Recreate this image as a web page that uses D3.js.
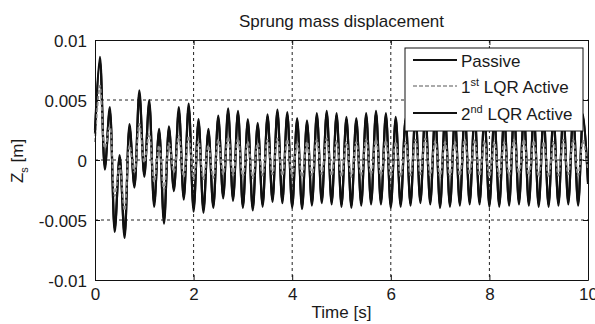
<!DOCTYPE html>
<html>
<head>
<meta charset="utf-8">
<script src="https://cdn.jsdelivr.net/npm/d3@7"></script>
<style>
  body { margin: 0; background: #fff; }
  text { font-family: "Liberation Sans", Arial, sans-serif; fill: #1a1a1a; }
</style>
</head>
<body>
<svg class="zs-chart"></svg>
<script>
// time of each extremum (s)
const timeS = [0,0.1,0.2,0.3,0.4,0.5,0.6,0.7,0.8,0.9,1,1.1,1.2,1.3,1.4,1.5,1.6,1.7,1.8,1.9,
  2,2.1,2.2,2.3,2.4,2.5,2.6,2.7,2.8,2.9,3,3.1,3.2,3.3,3.4,3.5,3.6,3.7,3.8,3.9,
  4,4.1,4.2,4.3,4.4,4.5,4.6,4.7,4.8,4.9,5,5.1,5.2,5.3,5.4,5.5,5.6,5.7,5.8,5.9,
  6,6.1,6.2,6.3,6.4,6.5,6.6,6.7,6.8,6.9,7,7.1,7.2,7.3,7.4,7.5,7.6,7.7,7.8,7.9,
  8,8.1,8.2,8.3,8.4,8.5,8.6,8.7,8.8,8.9,9,9.1,9.2,9.3,9.4,9.5,9.6,9.7,9.8,9.9,10];

const passive = [0.0025,0.0086,-0.0008,0.0044,-0.0060,0.0004,-0.0065,0.0030,-0.0023,0.0058,
  -0.0014,0.0050,-0.0039,0.0026,-0.0053,0.0028,-0.0026,0.0044,-0.0033,0.0047,
  -0.0043,0.0034,-0.0044,0.0026,-0.0040,0.0037,-0.0032,0.0043,-0.0034,0.0041,
  -0.0040,0.0034,-0.0042,0.0031,-0.0039,0.0038,-0.0035,0.0042,-0.0036,0.0040,
  -0.0040,0.0035,-0.0041,0.0033,-0.0038,0.0039,-0.0036,0.0041,-0.0037,0.0039,
  -0.0039,0.0036,-0.0040,0.0035,-0.0038,0.0039,-0.0037,0.0041,-0.0037,0.0039,
  -0.0040,0.0036,-0.0039,0.0035,-0.0038,0.0040,-0.0036,0.0041,-0.0037,0.0038,
  -0.0040,0.0036,-0.0039,0.0036,-0.0038,0.0040,-0.0037,0.0040,-0.0037,0.0038,
  -0.0039,0.0036,-0.0039,0.0037,-0.0038,0.0040,-0.0037,0.0039,-0.0038,0.0038,
  -0.0039,0.0037,-0.0039,0.0038,-0.0038,0.0040,-0.0037,0.0039,-0.0038,0.0038,-0.0020];

const lqr1 = [0.0015,0.0062,0.0010,0.0028,-0.0030,-0.0005,-0.0042,0.0012,-0.0010,0.0030,
  -0.0002,0.0022,-0.0018,0.0012,-0.0025,0.0014,-0.0010,0.0020,-0.0014,0.0020,
  -0.0016,0.0016,-0.0016,0.0012,-0.0015,0.0017,-0.0012,0.0019,-0.0013,0.0018,
  -0.0014,0.0015,-0.0015,0.0014,-0.0013,0.0017,-0.0012,0.0018,-0.0013,0.0017,
  -0.0014,0.0015,-0.0014,0.0015,-0.0013,0.0017,-0.0012,0.0018,-0.0013,0.0016,
  -0.0014,0.0015,-0.0014,0.0015,-0.0013,0.0017,-0.0012,0.0017,-0.0013,0.0016,
  -0.0014,0.0015,-0.0014,0.0015,-0.0013,0.0017,-0.0012,0.0018,-0.0013,0.0016,
  -0.0014,0.0015,-0.0014,0.0015,-0.0013,0.0017,-0.0012,0.0017,-0.0013,0.0016,
  -0.0014,0.0015,-0.0014,0.0015,-0.0013,0.0017,-0.0012,0.0017,-0.0013,0.0016,
  -0.0014,0.0015,-0.0014,0.0015,-0.0013,0.0017,-0.0012,0.0017,-0.0013,0.0016,-0.0008];

const lqr2 = [0.0022,0.0082,-0.0005,0.0041,-0.0057,0.0002,-0.0062,0.0027,-0.0021,0.0055,
  -0.0012,0.0047,-0.0036,0.0024,-0.0050,0.0026,-0.0024,0.0041,-0.0031,0.0044,
  -0.0040,0.0032,-0.0041,0.0024,-0.0038,0.0035,-0.0030,0.0040,-0.0032,0.0039,
  -0.0038,0.0032,-0.0040,0.0029,-0.0037,0.0036,-0.0033,0.0040,-0.0034,0.0038,
  -0.0038,0.0033,-0.0039,0.0031,-0.0036,0.0037,-0.0034,0.0039,-0.0035,0.0037,
  -0.0037,0.0034,-0.0038,0.0033,-0.0036,0.0037,-0.0035,0.0039,-0.0035,0.0037,
  -0.0038,0.0034,-0.0037,0.0033,-0.0036,0.0038,-0.0034,0.0039,-0.0035,0.0036,
  -0.0038,0.0034,-0.0037,0.0034,-0.0036,0.0038,-0.0035,0.0038,-0.0035,0.0036,
  -0.0037,0.0034,-0.0037,0.0035,-0.0036,0.0038,-0.0035,0.0037,-0.0036,0.0036,
  -0.0037,0.0035,-0.0037,0.0036,-0.0036,0.0038,-0.0035,0.0037,-0.0036,0.0036,-0.0018];

const xTicks = [0, 2, 4, 6, 8, 10];
const yTicks = [-0.01, -0.005, 0, 0.005, 0.01];
const yTickLabels = ['-0.01', '-0.005', '0', '0.005', '0.01'];

const svgWidth = 595;
const svgHeight = 324;
const margin = {top: 40, right: 7, bottom: 44, left: 95};
const width = svgWidth - margin.left - margin.right;
const height = svgHeight - margin.top - margin.bottom;

const svg = d3.select('.zs-chart')
  .attr('width', svgWidth)
  .attr('height', svgHeight);

const g = svg.append('g')
  .attr('transform', `translate(${margin.left}, ${margin.top})`);

const x = d3.scaleLinear().domain([0, 10]).range([0, width]);
const y = d3.scaleLinear().domain([-0.01, 0.01]).range([height, 0]);

// grid
g.append('g')
  .selectAll('line')
  .data(xTicks.slice(1, -1))
  .join('line')
  .attr('x1', d => x(d)).attr('x2', d => x(d))
  .attr('y1', 0).attr('y2', height)
  .attr('stroke', '#222').attr('stroke-width', 1)
  .attr('stroke-dasharray', '3,3');
g.append('g')
  .selectAll('line')
  .data(yTicks.slice(1, -1))
  .join('line')
  .attr('x1', 0).attr('x2', width)
  .attr('y1', d => y(d)).attr('y2', d => y(d))
  .attr('stroke', '#222').attr('stroke-width', 1)
  .attr('stroke-dasharray', '3,3');

const line = d3.line()
  .x((d, i) => x(timeS[i]))
  .y(d => y(d))
  .curve(d3.curveCatmullRom.alpha(0.5));

g.append('path')
  .datum(passive)
  .attr('fill', 'none')
  .attr('stroke', '#111')
  .attr('stroke-width', 2.2)
  .attr('d', line);

g.append('path')
  .datum(lqr2)
  .attr('fill', 'none')
  .attr('stroke', '#111')
  .attr('stroke-width', 2.2)
  .attr('d', line);

g.append('path')
  .datum(lqr1)
  .attr('fill', 'none')
  .attr('stroke', '#8c8c8c')
  .attr('stroke-width', 1.8)
  .attr('stroke-dasharray', '4,2')
  .attr('d', line);

// axes (MATLAB style, ticks inside)
const tickFont = g => g.selectAll('text')
  .style('font-family', '"Liberation Sans", Arial, sans-serif')
  .style('font-size', '17px')
  .attr('fill', '#1a1a1a');

g.append('g')
  .attr('transform', `translate(0, ${height})`)
  .call(d3.axisBottom(x).tickValues(xTicks).tickSizeInner(-5).tickSizeOuter(0).tickPadding(8).tickFormat(d3.format('d')))
  .call(tickFont)
  .call(a => a.selectAll('line, path').attr('stroke', '#111'));

g.append('g')
  .call(d3.axisLeft(y).tickValues(yTicks).tickSizeInner(-5).tickSizeOuter(0).tickPadding(8)
    .tickFormat((d, i) => yTickLabels[i]))
  .call(tickFont)
  .call(a => a.selectAll('text').attr('dy', '0.4em'))
  .call(a => a.selectAll('line, path').attr('stroke', '#111'));

g.append('g')
  .call(d3.axisTop(x).tickValues(xTicks).tickSizeInner(-5).tickSizeOuter(0).tickFormat(''))
  .call(a => a.selectAll('line, path').attr('stroke', '#111'));

g.append('g')
  .attr('transform', `translate(${width}, 0)`)
  .call(d3.axisRight(y).tickValues(yTicks).tickSizeInner(-5).tickSizeOuter(0).tickFormat(''))
  .call(a => a.selectAll('line, path').attr('stroke', '#111'));

// title and labels
svg.append('text')
  .attr('x', margin.left + width / 2)
  .attr('y', 27)
  .attr('text-anchor', 'middle')
  .style('font-size', '17px')
  .text('Sprung mass displacement');

svg.append('text')
  .attr('x', margin.left + width / 2)
  .attr('y', 318)
  .attr('text-anchor', 'middle')
  .style('font-size', '17px')
  .text('Time [s]');

const yl = svg.append('text')
  .attr('transform', `translate(23, 161) rotate(-90)`)
  .attr('text-anchor', 'middle')
  .style('font-size', '17px');
yl.append('tspan').text('Z');
yl.append('tspan').attr('dy', 5).style('font-size', '11px').text('s');
yl.append('tspan').attr('dy', -5).text(' [m]');

// legend
const legend = svg.append('g').attr('transform', 'translate(405, 48)');
legend.append('rect')
  .attr('width', 178).attr('height', 83)
  .attr('fill', '#fff').attr('stroke', '#111').attr('stroke-width', 1);

const legendItems = [
  {label: ['Passive'], stroke: '#111', dash: null},
  {label: ['1', 'st', ' LQR Active'], stroke: '#aaa', dash: '4,2'},
  {label: ['2', 'nd', ' LQR Active'], stroke: '#111', dash: null}
];
const rowY = [12, 38, 65];

legendItems.forEach((item, i) => {
  legend.append('line')
    .attr('x1', 8).attr('x2', 52)
    .attr('y1', rowY[i]).attr('y2', rowY[i])
    .attr('stroke', item.stroke)
    .attr('stroke-width', 2)
    .attr('stroke-dasharray', item.dash);
  const t = legend.append('text')
    .attr('x', 56).attr('y', rowY[i] + 7)
    .style('font-size', '17px');
  if (item.label.length === 1) {
    t.text(item.label[0]);
  } else {
    t.append('tspan').text(item.label[0]);
    t.append('tspan').attr('dy', -7).style('font-size', '11px').text(item.label[1]);
    t.append('tspan').attr('dy', 7).text(item.label[2]);
  }
});
</script>
</body>
</html>
